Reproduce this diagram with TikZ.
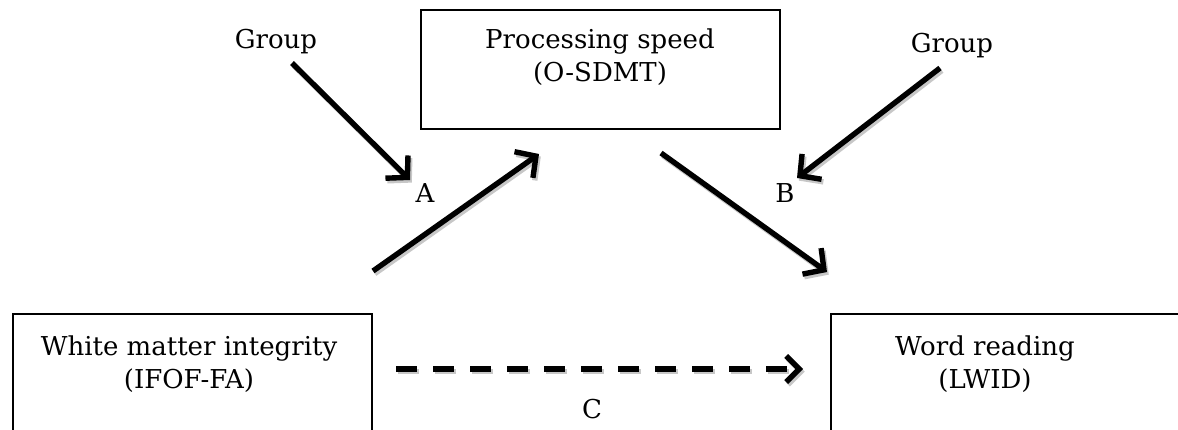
\documentclass[tikz,border=0pt]{standalone}
\usepackage{fontspec}
\setmainfont{DejaVu Serif}
\usetikzlibrary{arrows.meta}
\tikzset{
  box/.style={draw=black, line width=1pt, rectangle},
  lbl/.style={inner sep=0pt, font=\fontsize{13}{16.5}\selectfont, align=center},
  arr/.style={line width=2.7pt, -{Straight Barb[length=7.5pt,width=16pt,line width=2.7pt]}},
  darr/.style={line width=2.7pt, -{Straight Barb[length=6.5pt,width=13pt,line width=2.7pt]}, dash pattern=on 10.5pt off 8pt},
  shadow/.style={draw=black!22, transform canvas={shift={(0.9pt,-1.3pt)}}}
}
\begin{document}
\begin{tikzpicture}[x=0.5pt,y=-0.5pt]
\useasboundingbox (0,0) rectangle (1178,429);
\clip (0,0) rectangle (1178,429);
% boxes
\node[box, minimum width=179.5pt, minimum height=59.5pt, anchor=north west] (ps) at (420,9) {};
\node[box, minimum width=179.5pt, minimum height=70pt, anchor=north west] (wm) at (12,313) {};
\node[box, minimum width=200pt, minimum height=70pt, anchor=north west] (wr) at (830,313) {};
% texts
\node[lbl] (pst) at (600,57) {Processing speed\\(O-SDMT)};
\node[lbl] (wmt) at (189,364) {White matter integrity\\(IFOF-FA)};
\node[lbl] (wrt) at (985,364) {Word reading\\(LWID)};
\node[lbl, anchor=base] (g1) at (276,48) {Group};
\node[lbl, anchor=base] (g2) at (952,52) {Group};
\node[lbl, anchor=base] (a) at (425,202) {A};
\node[lbl, anchor=base] (b) at (785,202) {B};
\node[lbl, anchor=base] (c) at (592,418) {C};
% arrow endpoints
\coordinate (g1s) at (292,63);
\coordinate (g1e) at (410,180);
\coordinate (g2s) at (940,68);
\coordinate (g2e) at (797,178);
\coordinate (aS) at (373,271);
\coordinate (aE) at (539,154);
\coordinate (bS) at (661,153);
\coordinate (bE) at (827,272);
\coordinate (cS) at (396,369);
\coordinate (cE) at (803,369);
% shadows
\draw[arr, shadow] (g1s) -- (g1e);
\draw[arr, shadow] (g2s) -- (g2e);
\draw[arr, shadow] (aS) -- (aE);
\draw[arr, shadow] (bS) -- (bE);
\draw[darr, shadow] (cS) -- (cE);
% arrows
\draw[arr] (g1s) -- (g1e);
\draw[arr] (g2s) -- (g2e);
\draw[arr] (aS) -- (aE);
\draw[arr] (bS) -- (bE);
\draw[darr] (cS) -- (cE);
\end{tikzpicture}
\end{document}
